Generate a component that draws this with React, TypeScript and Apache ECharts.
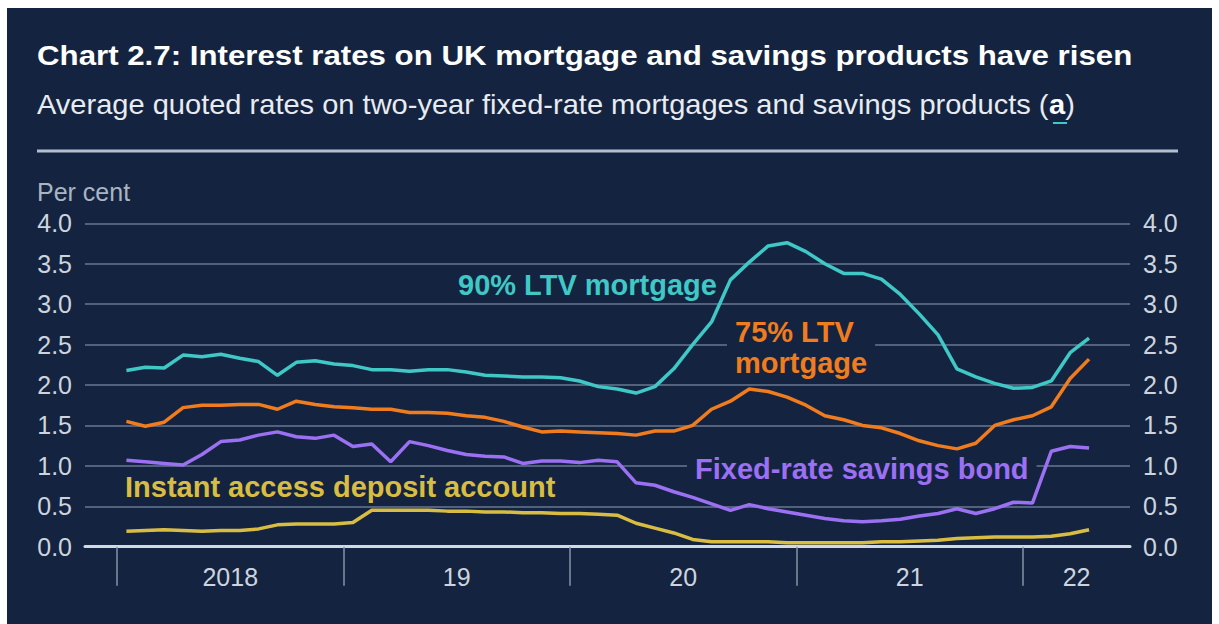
import React, { useEffect, useRef } from "react";
import * as echarts from "echarts";

// Monthly observations, Jan 2018 – Apr 2022
const months: string[] = [];
for (let y = 2018; y <= 2022; y++) {
  for (let m = 1; m <= 12; m++) {
    if (y === 2022 && m > 4) break;
    months.push(`${y}-${String(m).padStart(2, "0")}`);
  }
}

const ltv90 = [
  2.18, 2.22, 2.21, 2.37, 2.35, 2.38, 2.33, 2.29, 2.12, 2.28, 2.30, 2.26,
  2.24, 2.19, 2.19, 2.17, 2.19, 2.19, 2.16, 2.12, 2.11, 2.10, 2.10, 2.09,
  2.05, 1.98, 1.95, 1.90, 1.98, 2.20, 2.50, 2.78, 3.30, 3.52, 3.72, 3.76,
  3.65, 3.50, 3.38, 3.38, 3.31, 3.12, 2.88, 2.62, 2.20, 2.10, 2.02, 1.96,
  1.97, 2.05, 2.40, 2.58,
];
const ltv75 = [
  1.55, 1.49, 1.54, 1.72, 1.75, 1.75, 1.76, 1.76, 1.70, 1.80, 1.76, 1.73,
  1.72, 1.70, 1.70, 1.66, 1.66, 1.65, 1.62, 1.60, 1.55, 1.48, 1.42, 1.43,
  1.42, 1.41, 1.40, 1.38, 1.43, 1.43, 1.50, 1.70, 1.80, 1.95, 1.92, 1.85,
  1.75, 1.62, 1.57, 1.50, 1.47, 1.40, 1.31, 1.25, 1.21, 1.28, 1.50, 1.57,
  1.62, 1.73, 2.08, 2.32,
];
const savingsBond = [
  1.07, 1.05, 1.03, 1.01, 1.14, 1.30, 1.32, 1.38, 1.42, 1.36, 1.34, 1.38,
  1.24, 1.27, 1.05, 1.30, 1.25, 1.19, 1.14, 1.12, 1.11, 1.03, 1.06, 1.06,
  1.04, 1.07, 1.05, 0.79, 0.76, 0.68, 0.61, 0.53, 0.45, 0.52, 0.47, 0.43,
  0.39, 0.35, 0.32, 0.31, 0.32, 0.34, 0.38, 0.41, 0.47, 0.41, 0.47, 0.55,
  0.54, 1.18, 1.24, 1.22,
];
const instantAccess = [
  0.19, 0.20, 0.21, 0.20, 0.19, 0.20, 0.20, 0.22, 0.27, 0.28, 0.28, 0.28,
  0.30, 0.45, 0.45, 0.45, 0.45, 0.44, 0.44, 0.43, 0.43, 0.42, 0.42, 0.41,
  0.41, 0.40, 0.39, 0.29, 0.23, 0.17, 0.09, 0.06, 0.06, 0.06, 0.06, 0.05,
  0.05, 0.05, 0.05, 0.05, 0.06, 0.06, 0.07, 0.08, 0.10, 0.11, 0.12, 0.12,
  0.12, 0.13, 0.16, 0.21,
];

const yearLabels = ["2018", "19", "20", "21", "22"];
const yearStarts = [0, 12, 24, 36, 48]; // month offsets of year boundaries
const yearLabelAt = [6, 18, 30, 42, 50.84];

const BG = "#142440";
const FONT = '"Liberation Sans", Arial, sans-serif';
const C_TEAL = "#3fc8c6";
const C_ORANGE = "#f07c1e";
const C_PURPLE = "#9c70f3";
const C_GOLD = "#d8bd42";
const C_TICKTXT = "#cdd4de";

const toXY = (arr: number[]) => arr.map((v, i) => [i + 0.5, v]);

export default function App() {
  const ref = useRef<HTMLDivElement>(null);
  useEffect(() => {
    if (!ref.current) return;
    const chart = echarts.init(ref.current, undefined, { renderer: "svg" });
    const lineSeries = (name: string, data: number[], color: string) => ({
      name,
      type: "line",
      data: toXY(data),
      showSymbol: false,
      symbol: "none",
      lineStyle: { color, width: 3.5 },
      z: 3,
    });
    const annot = (text: string, x: number, y: number, color: string, pad: number[] = [2, 8]) => ({
      type: "text",
      x,
      y,
      z: 1,
      style: {
        text,
        fill: color,
        fontSize: 29,
        fontWeight: "bold",
        fontFamily: FONT,
        textVerticalAlign: "middle",
        lineHeight: 31,
        backgroundColor: BG,
        padding: pad,
      },
    });
    chart.setOption({
      animation: false,
      backgroundColor: "transparent",
      grid: { left: 85, right: 89, top: 223.3, bottom: 77.3, containLabel: false },
      xAxis: {
        type: "value",
        min: -1.695,
        max: 53.67,
        splitLine: { show: false },
        axisLine: { show: true, onZero: true, lineStyle: { color: "#d3d9e2", width: 3 } },
        axisTick: {
          show: true,
          customValues: yearStarts,
          length: 39,
          lineStyle: { color: "#8693a6", width: 1.5 },
        },
        axisLabel: {
          customValues: yearLabelAt,
          formatter: (v: number) => {
            const k = yearLabelAt.findIndex((p) => Math.abs(p - v) < 0.01);
            return k >= 0 ? yearLabels[k] : "";
          },
          color: C_TICKTXT,
          fontSize: 25,
          fontFamily: FONT,
          margin: 18,
        },
      },
      yAxis: [
        {
          type: "value",
          min: 0,
          max: 4,
          interval: 0.5,
          position: "left",
          axisLine: { show: false },
          axisTick: { show: false },
          splitLine: { show: true, lineStyle: { color: "#53627c", width: 2 } },
          axisLabel: {
            formatter: (v: number) => v.toFixed(1),
            color: C_TICKTXT,
            fontSize: 25,
            fontFamily: FONT,
            margin: 13,
          },
        },
        {
          type: "value",
          min: 0,
          max: 4,
          interval: 0.5,
          position: "right",
          axisLine: { show: false },
          axisTick: { show: false },
          splitLine: { show: false },
          axisLabel: {
            formatter: (v: number) => v.toFixed(1),
            color: C_TICKTXT,
            fontSize: 25,
            fontFamily: FONT,
            margin: 13,
          },
        },
      ],
      series: [
        lineSeries("Instant access deposit account", instantAccess, C_GOLD),
        lineSeries("Fixed-rate savings bond", savingsBond, C_PURPLE),
        lineSeries("75% LTV mortgage", ltv75, C_ORANGE),
        lineSeries("90% LTV mortgage", ltv90, C_TEAL),
      ],
      graphic: [
        {
          type: "text",
          x: 37,
          y: 55,
          scaleX: 1.116,
          z: 5,
          style: {
            text: "Chart 2.7: Interest rates on UK mortgage and savings products have risen",
            fill: "#ffffff",
            fontSize: 28,
            fontWeight: "bold",
            fontFamily: FONT,
            textVerticalAlign: "middle",
          },
        },
        {
          type: "text",
          x: 37,
          y: 105,
          scaleX: 1.076,
          z: 5,
          style: {
            text: "{n|Average quoted rates on two-year fixed-rate mortgages and savings products (}{b|a}{n|)}",
            fill: "#e8ebf0",
            fontSize: 27,
            fontFamily: FONT,
            textVerticalAlign: "middle",
            rich: {
              n: { fontSize: 27, fontFamily: FONT, fill: "#e8ebf0" },
              b: { fontSize: 27, fontFamily: FONT, fontWeight: "bold", fill: "#ffffff" },
            },
          },
        },
        {
          type: "line",
          z: 5,
          shape: { x1: 1053, y1: 123, x2: 1067, y2: 123 },
          style: { stroke: "#3fc8c6", lineWidth: 2 },
        },
        {
          type: "line",
          z: 5,
          shape: { x1: 37, y1: 151, x2: 1178, y2: 151 },
          style: { stroke: "#b3bfcf", lineWidth: 3 },
        },
        {
          type: "text",
          x: 37,
          y: 192,
          z: 5,
          style: {
            text: "Per cent",
            fill: "#aab4c2",
            fontSize: 25,
            fontFamily: FONT,
            textVerticalAlign: "middle",
          },
        },
        annot("90% LTV mortgage", 450, 285, C_TEAL),
        annot("75% LTV\nmortgage", 727, 347, C_ORANGE),
        annot("Fixed-rate savings bond", 687, 469, C_PURPLE),
        annot("Instant access deposit account", 117, 487, C_GOLD, [0, 8]),
      ],
    });
    return () => chart.dispose();
  }, []);

  return (
    <div style={{ position: "absolute", left: 0, top: 0, width: 1219, height: 624, background: "#ffffff", overflow: "hidden" }}>
      <div style={{ position: "absolute", left: 7, top: 8, width: 1205, height: 616, background: BG }} />
      <div ref={ref} style={{ position: "absolute", left: 0, top: 0, width: 1219, height: 624 }} />
    </div>
  );
}
